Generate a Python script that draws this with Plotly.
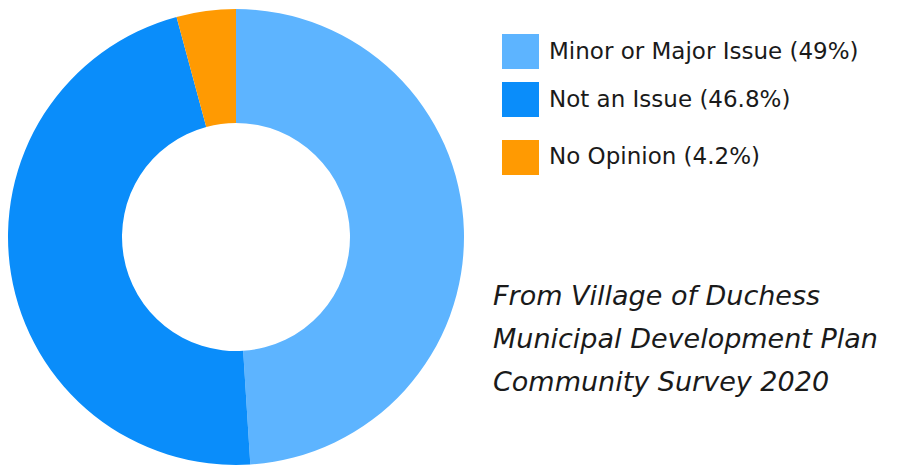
import plotly.graph_objects as go

# Survey responses
labels = ["Minor or Major Issue", "Not an Issue", "No Opinion"]
values = [49, 46.8, 4.2]
colors = ["#5DB4FF", "#0A8DFA", "#FF9A02"]

source_lines = [
    "From Village of Duchess",
    "Municipal Development Plan",
    "Community Survey 2020",
]

W, H = 916, 466
FONT = "DejaVu Sans"


def px_x(x):
    return x / W


def px_y(y):
    # pixel from top -> paper fraction from bottom
    return 1 - y / H


fig = go.Figure()

cx, cy, r = 236, 237, 228
fig.add_trace(go.Pie(
    labels=labels,
    values=values,
    marker=dict(colors=colors, line=dict(width=0)),
    hole=0.5,
    sort=False,
    direction="clockwise",
    rotation=0,
    textinfo="none",
    hoverinfo="label+percent",
    showlegend=False,
    domain=dict(x=[px_x(cx - r), px_x(cx + r)], y=[px_y(cy + r), px_y(cy - r)]),
))

# Legend: colour swatches with labels
sw_left, sw_right = 502, 539
sw_tops = [34, 82, 140]
sw_h = 35
for lab, val, col, top in zip(labels, values, colors, sw_tops):
    fig.add_shape(
        type="rect", xref="paper", yref="paper",
        x0=px_x(sw_left), x1=px_x(sw_right),
        y0=px_y(top + sw_h), y1=px_y(top),
        fillcolor=col, line=dict(width=0),
    )
    fig.add_annotation(
        xref="paper", yref="paper",
        x=px_x(547), y=px_y(top + sw_h / 2 - 1),
        xanchor="left", yanchor="middle",
        text=f"{lab} ({val:g}%)", showarrow=False,
        font=dict(family=FONT, size=23, color="#1a1a1a"),
    )

# Source note
for i, line in enumerate(source_lines):
    fig.add_annotation(
        xref="paper", yref="paper",
        x=px_x(491), y=px_y(295 + 43 * i),
        xanchor="left", yanchor="middle",
        text=f"<i>{line}</i>", showarrow=False,
        font=dict(family=FONT, size=27, color="#1a1a1a"),
    )

fig.update_layout(
    width=W, height=H,
    margin=dict(l=0, r=0, t=0, b=0),
    paper_bgcolor="white",
    plot_bgcolor="white",
)

fig.write_html("out.html")
